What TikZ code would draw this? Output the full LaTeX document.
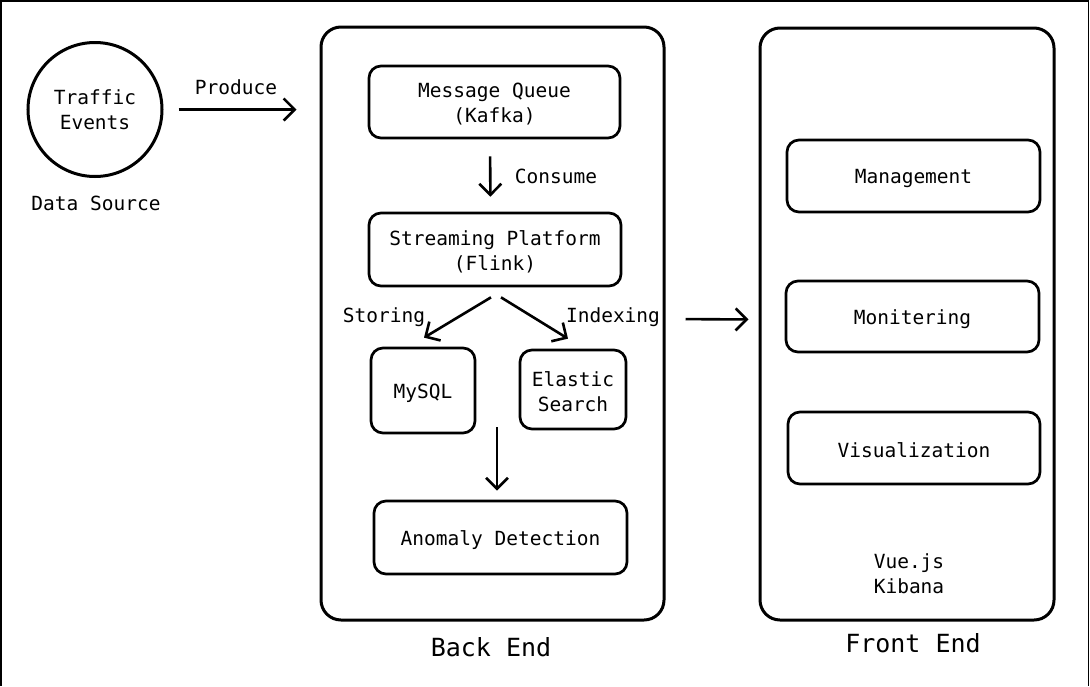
\documentclass[tikz,border=0pt]{standalone}
\usepackage{fontspec}
\setmainfont{DejaVu Sans Mono}
\usetikzlibrary{arrows.meta,calc}
\tikzset{
  txt/.style={font=\fontsize{19.5}{25}\selectfont, align=center, inner sep=0pt},
  bigtxt/.style={font=\fontsize{25}{30}\selectfont, inner sep=0pt},
  box/.style={draw, line width=2.7pt, rounded corners=12pt, inner sep=0pt},
  btxt/.style={txt, yshift=-2.5pt},
  cont/.style={draw, line width=3pt, rounded corners=20pt, inner sep=0pt},
  arr/.style={draw, line width=2.6pt, -{Straight Barb[length=11pt,width=22pt,line width=2.6pt]}}
}
\begin{document}
\begin{tikzpicture}[x=1pt,y=-1pt]
\useasboundingbox (0,0) rectangle (1090,686);
\draw[line width=1.5pt] (0.75,686) -- (0.75,0.75) -- (1088.5,0.75) -- (1088.5,686);
% source
\node[circle, draw, line width=3pt, minimum size=134pt, inner sep=0pt, txt] (ev) at (95,109.5) {Traffic\\Events};
\node[txt] (ds) at (96,203) {Data Source};
% containers
\node[cont, minimum width=343pt, minimum height=593pt] (be) at (492.5,323.5) {};
\node[cont, minimum width=294pt, minimum height=592pt] (fe) at (907,324) {};
\node[bigtxt] (bel) at (491,647) {Back End};
\node[bigtxt] (fel) at (913,643) {Front End};
% back end boxes
\node[box, minimum width=251pt, minimum height=72pt] (mq) at (494.5,102) {};
\node[btxt] (mqt) at (mq) {Message Queue\\(Kafka)};
\node[box, minimum width=252pt, minimum height=73pt] (sp) at (495,249.5) {};
\node[btxt] (spt) at (sp) {Streaming Platform\\(Flink)};
\node[box, minimum width=104pt, minimum height=85pt] (my) at (423,390.5) {};
\node[btxt] (myt) at (my) {MySQL};
\node[box, minimum width=106pt, minimum height=79pt] (es) at (573,389.5) {};
\node[btxt] (est) at (es) {Elastic\\Search};
\node[box, minimum width=253pt, minimum height=73pt] (ad) at (500.5,537.5) {};
\node[btxt] (adt) at (ad) {Anomaly Detection};
% front end boxes
\node[box, minimum width=253pt, minimum height=72pt] (mg) at (913.5,176) {};
\node[btxt] (mgt) at (mg) {Management};
\node[box, minimum width=253pt, minimum height=71pt] (mo) at (912.5,316.5) {};
\node[btxt] (mot) at (mo) {Monitering};
\node[box, minimum width=252pt, minimum height=72pt] (vi) at (914,448) {};
\node[btxt] (vit) at (vi) {Visualization};
\node[txt] (vk) at (909,574) {Vue.js\\Kibana};
% arrows
\draw[arr, shorten <=15pt, shorten >=23pt] (ev.east) -- (ev.east -| be.west);
\node[txt] (pr) at (236,87) {Produce};
\draw[arr, shorten <=17pt, shorten >=15pt] ([xshift=-4.5pt]mq.south) -- ([xshift=-4.5pt]sp.north);
\node[txt] (co) at (556,176) {Consume};
\draw[arr] ([xshift=-4pt,yshift=-10pt]sp.south) -- ([xshift=1pt,yshift=9pt]my.north);
\draw[arr] ([xshift=6pt,yshift=-10pt]sp.south) -- ([xshift=-5pt,yshift=10pt]es.north);
\node[txt] (sto) at (384,317) {Storing};
\node[txt] (idx) at (613,317) {Indexing};
\coordinate (dst) at (497,427);
\draw[arr, shorten >=9pt] (dst) -- (dst |- ad.north);
\draw[arr, shorten <=20pt, shorten >=10pt] ([yshift=4.5pt]be.east) -- ([yshift=4.5pt]fe.west);
\end{tikzpicture}
\end{document}
